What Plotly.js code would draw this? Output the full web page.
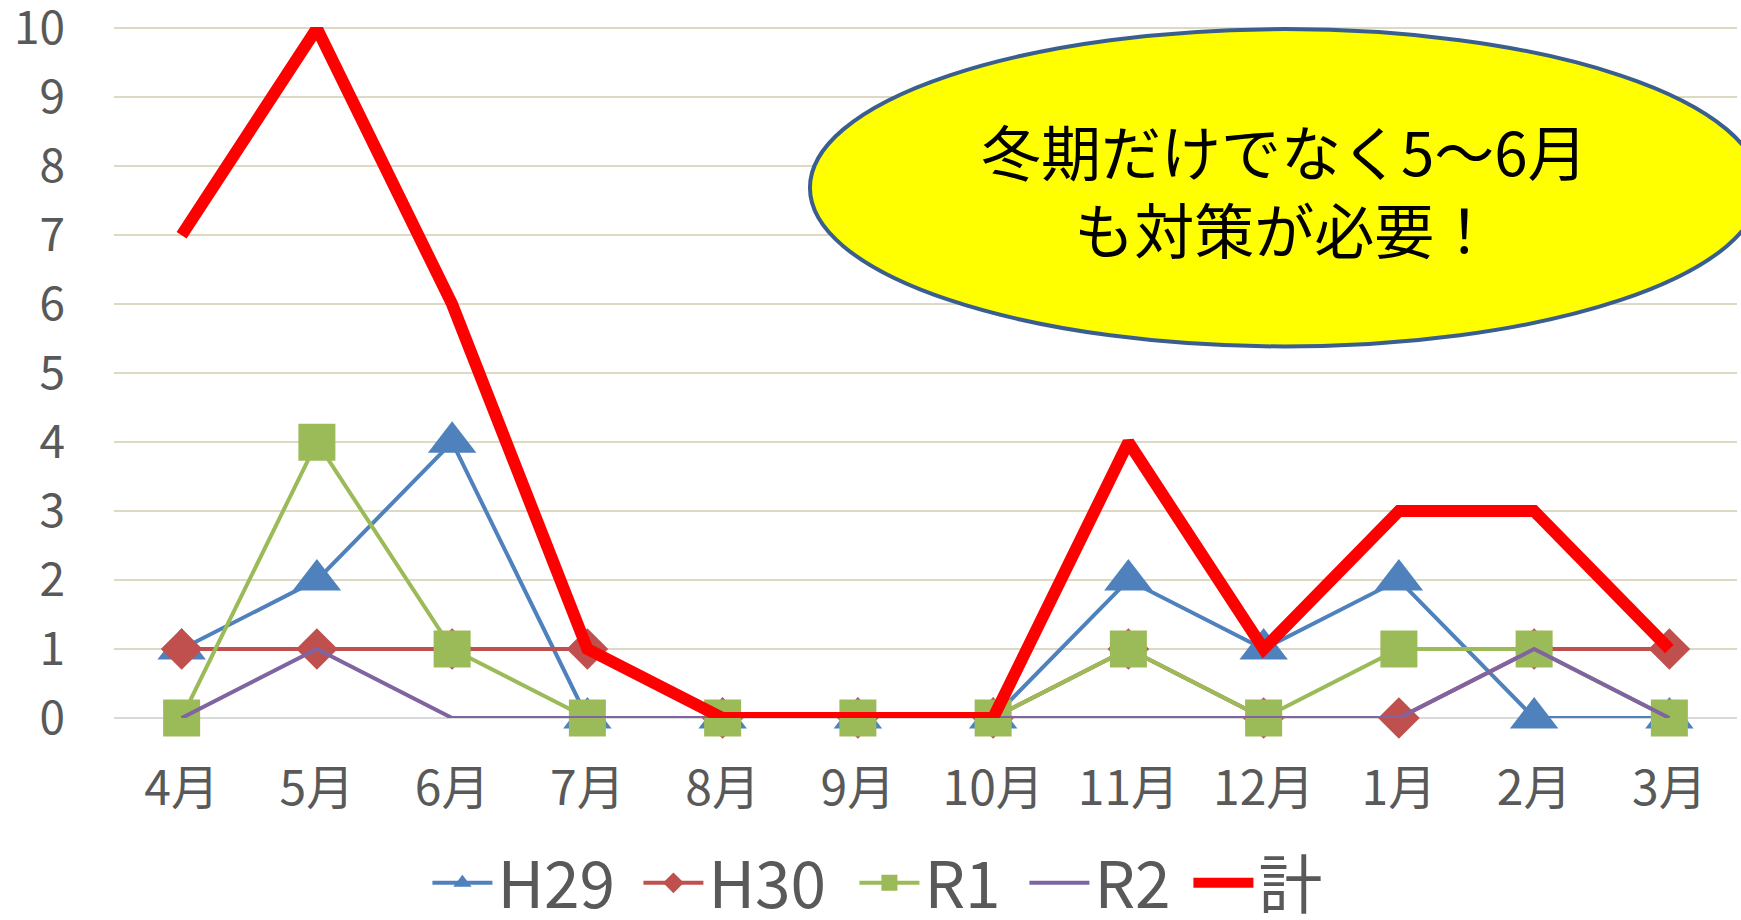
<!DOCTYPE html>
<html>
<head>
<meta charset="utf-8">
<script src="https://cdn.plot.ly/plotly-3.0.1.min.js"></script>
<style>html,body{margin:0;padding:0;background:#fff;}#chart{width:1741px;height:920px;}</style>
</head>
<body>
<div id="chart"></div>
<script>
var months = ['4月','5月','6月','7月','8月','9月','10月','11月','12月','1月','2月','3月'];
var H29 = [1,2,4,0,0,0,0,2,1,2,0,0];
var H30 = [1,1,1,1,0,0,0,1,0,0,1,1];
var R1  = [0,4,1,0,0,0,0,1,0,1,1,0];
var R2  = [0,1,0,0,0,0,0,0,0,0,1,0];
var total = [7,10,6,1,0,0,0,4,1,3,3,1];
var seriesNames = ['H29','H30','R1','R2','計'];
var yTicks = [0,1,2,3,4,5,6,7,8,9,10];
var noteText = '冬期だけでなく5～6月<br>も対策が必要！';

var F = '"Noto Sans CJK JP", "Noto Sans", sans-serif';

var traces = [
  {x: months, y: H29, name: seriesNames[0], type: 'scatter', mode: 'lines+markers', cliponaxis: false, legendwidth: 136,
   line: {color: '#4F81BD', width: 4}, marker: {symbol: 'triangle-up', size: 42, color: '#4F81BD'}},
  {x: months, y: H30, name: seriesNames[1], type: 'scatter', mode: 'lines+markers', cliponaxis: false, legendwidth: 141,
   line: {color: '#C0504D', width: 4}, marker: {symbol: 'diamond', size: 32, color: '#C0504D'}},
  {x: months, y: R1, name: seriesNames[2], type: 'scatter', mode: 'lines+markers', cliponaxis: false, legendwidth: 95,
   line: {color: '#9BBB59', width: 4}, marker: {symbol: 'square', size: 37, color: '#9BBB59'}},
  {x: months, y: R2, name: seriesNames[3], type: 'scatter', mode: 'lines', cliponaxis: false, legendwidth: 89,
   line: {color: '#8064A2', width: 4}},
  {x: months, y: total, name: seriesNames[4], type: 'scatter', mode: 'lines', cliponaxis: false, legendwidth: 70,
   line: {color: '#FF0000', width: 12}}
];

var layout = {
  width: 1741, height: 920,
  margin: {l: 114, r: 4, t: 27, b: 202},
  paper_bgcolor: '#FFFFFF', plot_bgcolor: '#FFFFFF',
  font: {family: F, color: '#595959'},
  showlegend: true,
  legend: {orientation: 'h', xref: 'container', yref: 'container', x: 0.2455, xanchor: 'left',
           y: 0.04, yanchor: 'middle', itemwidth: 60,
           font: {size: 64, color: '#595959', family: F}},
  xaxis: {type: 'category', range: [-0.5, 11.5], showgrid: false, zeroline: false, showline: false, ticks: '',
          tickfont: {size: 48, color: '#595959', family: F}, ticklabelstandoff: 38, fixedrange: true},
  yaxis: {range: [0, 10.02], tickvals: yTicks, ticktext: yTicks.map(String), showgrid: true,
          gridcolor: '#DDD9C3', gridwidth: 2, zeroline: true, zerolinecolor: '#D9D9D9', zerolinewidth: 2,
          showline: false, ticks: '', tickfont: {size: 46, color: '#595959', family: F},
          ticklabelstandoff: 48, ticklabeloverflow: 'allow', fixedrange: true},
  shapes: [
    {type: 'circle', xref: 'paper', yref: 'paper', x0: 0.4288, x1: 1.0142, y0: 0.5377, y1: 0.997,
     fillcolor: '#FFFF00', line: {color: '#3A5F8F', width: 4}, layer: 'above'}
  ],
  annotations: [
    {xref: 'paper', yref: 'paper', x: 0.721, y: 0.767, text: noteText, showarrow: false,
     font: {size: 60, color: '#000000', family: F}, align: 'center', xanchor: 'center', yanchor: 'middle'}
  ]
};

Plotly.newPlot('chart', traces, layout, {displayModeBar: false, staticPlot: true});
</script>
</body>
</html>
